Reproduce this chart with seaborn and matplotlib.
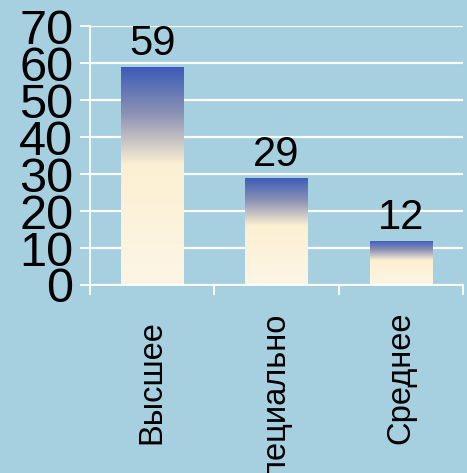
import numpy as np
import pandas as pd
import seaborn as sns
import matplotlib.pyplot as plt
from matplotlib.colors import LinearSegmentedColormap

# data
categories = ["Высшее", "специально", "Среднее"]
values = [59, 29, 12]

df = pd.DataFrame({"cat": categories, "val": values})

bg = "#a6cfe0"
sns.set_style("white")
plt.rcParams['font.family'] = ['Liberation Sans', 'DejaVu Sans']
plt.rcParams['text.color'] = 'black'
plt.rcParams['xtick.labelcolor'] = 'black'
plt.rcParams['ytick.labelcolor'] = 'black'

fig = plt.figure(figsize=(4.67, 4.73), dpi=100, facecolor=bg)
ax = fig.add_axes([90 / 467, 188 / 473, 373 / 467, 259 / 473])
ax.set_facecolor(bg)

sns.barplot(data=df, x="cat", y="val", width=0.5, color="#fdf3d6",
            linewidth=0, ax=ax, zorder=2)

# gradient fill: blue at top, cream from ~45% of the bar down
grad_cmap = LinearSegmentedColormap.from_list(
    "g", [(0.0, "#3a5bb8"), (0.22, "#8d93b4"), (0.45, "#fcf0d2"), (1.0, "#fdf6e6")])
grad = np.linspace(0, 1, 256).reshape(-1, 1)
for p in ax.patches:
    x0, w, h = p.get_x(), p.get_width(), p.get_height()
    im = ax.imshow(grad, cmap=grad_cmap, extent=[x0, x0 + w, 0, h],
                   aspect='auto', origin='upper', zorder=2.5)
    im.set_clip_path(p)
    p.set_facecolor("none")

ax.set_xlim(-0.5, 2.5)
ax.set_ylim(0, 70)

# value labels
for p, v in zip(ax.patches, values):
    ax.annotate(str(v), (p.get_x() + p.get_width() / 2, v),
                xytext=(0, 2), textcoords="offset points",
                ha='center', va='bottom', fontsize=30, color='black')

# grid and axes
ax.set_yticks(np.arange(0, 71, 10))
ax.yaxis.grid(True, color='white', linewidth=1.6, zorder=0)
ax.set_axisbelow(True)
ax.tick_params(axis='y', length=7, width=1.3, color='white',
               direction='out', pad=5, left=True)
for lab in ax.get_yticklabels():
    lab.set_fontfamily(['Liberation Sans Narrow', 'Liberation Sans'])
    lab.set_fontsize(35)
    lab.set_color('black')

ax.set_xticks([-0.5, 0.5, 1.5, 2.5])
ax.set_xticklabels([])
ax.tick_params(axis='x', length=7, width=1.3, color='white',
               direction='out', bottom=True)
for s in ['top', 'right']:
    ax.spines[s].set_visible(False)
for s in ['left', 'bottom']:
    ax.spines[s].set_color('white')
    ax.spines[s].set_linewidth(1.3)
ax.set_xlabel("")
ax.set_ylabel("")

# category labels, rotated
tr = ax.get_xaxis_transform()
for i, c in enumerate(categories):
    if i == 1:
        ax.text(i, -28 / 259, c, transform=tr, rotation=90, ha='center',
                va='top', fontsize=23.5, color='black', clip_on=False)
    else:
        ax.text(i, -159 / 259, c, transform=tr, rotation=90, ha='center',
                va='bottom', fontsize=23.5, color='black', clip_on=False)

fig.savefig("out.png", dpi=100, facecolor=bg)
